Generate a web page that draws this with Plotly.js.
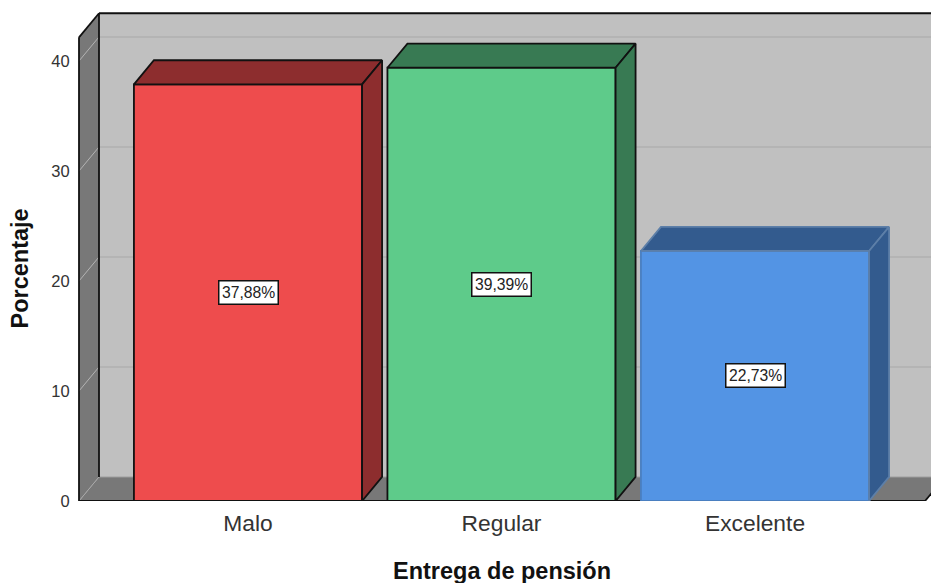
<!DOCTYPE html>
<html>
<head>
<meta charset="utf-8">
<script src="https://cdn.plot.ly/plotly-3.0.1.min.js"></script>
<style>html,body{margin:0;padding:0;background:#fff}#chart{width:931px;height:583px}</style>
</head>
<body>
<div id="chart"></div>
<script>
// Pension delivery ratings, percent of respondents
const categories = ['Malo', 'Regular', 'Excelente'];
const percentages = [37.88, 39.39, 22.73];
const yTicks = [0, 10, 20, 30, 40];
const frontColors = ['#ee4c4d', '#5ecb8a', '#5394e4'];
const shadeColors = ['#8d2d2e', '#387a53', '#335b8e'];
const edgeColors = ['#111111', '#111111', '#4a7fc0'];
const shadeEdgeColors = ['#111111', '#111111', '#5d7fa8'];

// Extruded look: the depth vector is expressed in axis units
const barWidth = 0.9;
const depthX = 0.0789;
const depthY = 2.19;
const xLeft = -0.6667;
const xRightFront = 2.6706;
const wallTop = 42.15;
const yMax = 45;

const polyPath = pts => 'M' + pts.map(p => p[0] + ',' + p[1]).join('L') + 'Z';
const linePath = (a, b) => 'M' + a[0] + ',' + a[1] + 'L' + b[0] + ',' + b[1];

const shape = (path, fill, color, width) => ({
  type: 'path', xref: 'x', yref: 'y', layer: 'below', path,
  fillcolor: fill, line: {color: color || 'rgba(0,0,0,0)', width: width || 0}
});

const backL = xLeft + depthX, backR = xRightFront + 1;
const shapes = [
  // back wall
  shape(polyPath([[backL, depthY], [backL, wallTop + depthY], [backR, wallTop + depthY], [backR, depthY]]), '#c0c0c0'),
  // left wall
  shape(polyPath([[xLeft, 0], [xLeft, wallTop], [backL, wallTop + depthY], [backL, depthY]]), '#787878'),
  // floor
  shape(polyPath([[xLeft, 0], [backL, depthY], [backR + depthX, depthY], [xRightFront + depthX, depthY], [xRightFront, 0]]), '#787878')
];
// gridlines on the back wall and their continuation across the left wall
yTicks.slice(1).forEach(t => {
  shapes.push(shape(linePath([backL, t + depthY], [backR, t + depthY]), 'rgba(0,0,0,0)', '#b1b1b1', 1.5));
  shapes.push(shape(linePath([xLeft, t], [backL, t + depthY]), 'rgba(0,0,0,0)', '#b4b4b4', 1));
});
shapes.push(shape(linePath([xLeft, 0], [backL, depthY]), 'rgba(0,0,0,0)', '#a8a8a8', 1));
shapes.push(shape(linePath([backL, depthY], [backR, depthY]), 'rgba(0,0,0,0)', '#a5a5a5', 1));
// frame edges
const edge = (a, b) => shapes.push(shape(linePath(a, b), 'rgba(0,0,0,0)', '#111111', 1.8));
edge([backL, depthY], [backL, wallTop + depthY]);
edge([xLeft, 0], [xLeft, wallTop]);
edge([xLeft, wallTop], [backL, wallTop + depthY]);
edge([backL, wallTop + depthY], [backR, wallTop + depthY]);
edge([xLeft, 0], [xRightFront, 0]);
edge([xRightFront, 0], [xRightFront + depthX, depthY]);

const indices = categories.map((_, i) => i);
const traces = [{
  type: 'bar', x: indices, y: percentages, width: barWidth,
  marker: {color: frontColors, line: {color: edgeColors, width: 1.8}},
  hoverinfo: 'skip', showlegend: false
}];

// Top and right faces of each bar
percentages.forEach((v, i) => {
  const l = i - barWidth / 2, r = i + barWidth / 2;
  const faces = [
    [[l, v], [l + depthX, v + depthY], [r + depthX, v + depthY], [r, v], [l, v]],
    [[r, v], [r + depthX, v + depthY], [r + depthX, depthY], [r, 0], [r, v]]
  ];
  faces.forEach(f => traces.push({
    type: 'scatter', mode: 'lines', x: f.map(p => p[0]), y: f.map(p => p[1]),
    fill: 'toself', fillcolor: shadeColors[i],
    line: {color: shadeEdgeColors[i], width: 1.8},
    hoverinfo: 'skip', showlegend: false
  }));
});

const axisFont = {family: 'Liberation Sans, Arial, sans-serif', color: '#333333'};
const titleFont = {family: 'Liberation Sans, Arial, sans-serif', color: '#111111', size: 23.5};

const marginTop = 6.3, marginBottom = 82.3, marginLeft = 75;
const plotH = 583 - marginTop - marginBottom, plotW = 931 - marginLeft;
const zeroY = 583 - marginBottom;

const annotations = percentages.map((v, i) => ({
  x: i, y: v / 2, xref: 'x', yref: 'y', showarrow: false,
  text: v.toFixed(2).replace('.', ',') + '%',
  font: {family: axisFont.family, color: '#222222', size: 15.7},
  bgcolor: '#ffffff', bordercolor: '#111111', borderwidth: 1.5, borderpad: 2.5
}));
annotations.push({
  xref: 'paper', yref: 'paper', xanchor: 'center', yanchor: 'middle', showarrow: false,
  x: (501.5 - marginLeft) / plotW, y: (zeroY - 570.5) / plotH,
  text: '<b>Entrega de pensión</b>', font: titleFont
});
annotations.push({
  xref: 'paper', yref: 'paper', xanchor: 'center', yanchor: 'middle', showarrow: false,
  x: (20.5 - marginLeft) / plotW, y: (zeroY - 269) / plotH, textangle: -90,
  text: '<b>Porcentaje</b>', font: titleFont
});

const layout = {
  width: 931, height: 583,
  margin: {l: marginLeft, r: 0, t: marginTop, b: marginBottom},
  paper_bgcolor: '#ffffff', plot_bgcolor: '#ffffff',
  showlegend: false,
  xaxis: {
    range: [xLeft - (4 / 253.5), xLeft - (4 / 253.5) + plotW / 253.5],
    tickmode: 'array', tickvals: indices, ticktext: categories,
    showgrid: false, zeroline: false, showline: false,
    ticks: 'outside', ticklen: 2, tickcolor: 'rgba(0,0,0,0)',
    tickfont: Object.assign({size: 22.8}, axisFont)
  },
  yaxis: {
    range: [0, yMax],
    tickmode: 'array', tickvals: yTicks, ticktext: yTicks.map(String),
    showgrid: false, zeroline: false, showline: false,
    ticks: 'outside', ticklen: 1, tickcolor: 'rgba(0,0,0,0)', ticklabelshift: 1.5,
    tickfont: Object.assign({size: 16.5}, axisFont)
  },
  shapes, annotations
};

Plotly.newPlot('chart', traces, layout, {displayModeBar: false, staticPlot: true});
</script>
</body>
</html>
